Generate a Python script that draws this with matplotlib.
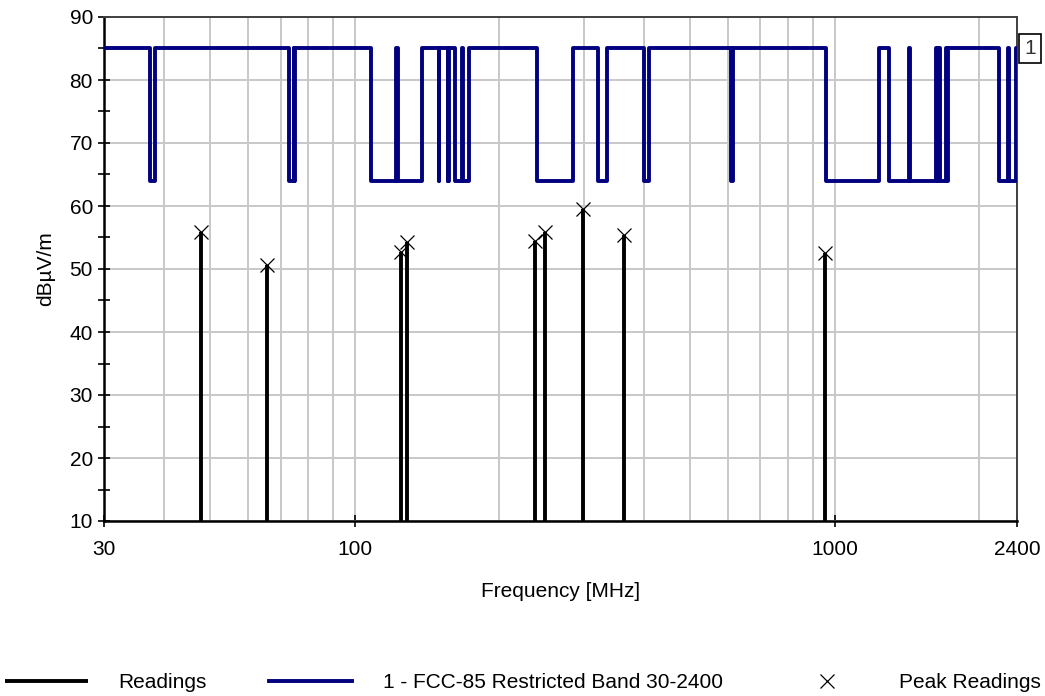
import numpy as np
import matplotlib.pyplot as plt
from matplotlib.ticker import FixedLocator, NullFormatter

plt.rcParams['font.family'] = ['Liberation Sans', 'DejaVu Sans']
plt.rcParams['font.size'] = 15

# Readings (MHz, dBuV/m)
readings_freq = [47.7, 65.5, 124.6, 128.2, 237.4, 249.0, 299.3, 363.9, 955.0]
readings_level = [55.9, 50.6, 52.7, 54.3, 54.5, 55.8, 59.6, 55.4, 52.6]

# FCC restricted bands within 30-2400 MHz (limit drops inside them)
band_lo = [37.5, 73, 74.8, 108, 123, 149.9, 156.52475, 156.7, 162.0125, 167.72,
           240, 322, 399.9, 608, 960, 1300, 1435, 1645.5, 1660, 1718.8, 2200, 2310]
band_hi = [38.25, 74.6, 75.2, 121.94, 138, 150.05, 156.52525, 156.9, 167.17, 173.2,
           285, 335.4, 410, 614, 1240, 1427, 1626.5, 1646.5, 1710, 1722.2, 2300, 2390]
limit_high = 85
limit_low = 64
f_start, f_stop = 30, 2400

x_ticks = [30, 100, 1000, 2400]
x_tick_labels = ['30', '100', '1000', '2400']
legend_labels = ['Readings', '1 - FCC-85 Restricted Band 30-2400', 'Peak Readings']

# step limit line
lim_f = [f_start]
lim_v = [limit_high]
for lo, hi in zip(band_lo, band_hi):
    lim_f += [lo, hi]
    lim_v += [limit_low, limit_high]
lim_f.append(f_stop)
lim_v.append(limit_high)

fig = plt.figure(figsize=(10.45, 6.96), dpi=100)
ax = fig.add_axes([104/1045, 1 - 521/696, 913/1045, 504/696])

ax.set_xscale('log')
ax.set_xlim(f_start, f_stop)
ax.set_ylim(10, 90)

readings = ax.vlines(readings_freq, 10, readings_level, color='black', lw=2.8, zorder=3)
limit, = ax.step(lim_f, lim_v, where='post', color='#000080', lw=2.8, zorder=4)
peaks, = ax.plot(readings_freq, readings_level, 'x', color='black', ms=10.5,
                 mew=0.9, zorder=5)

ax.annotate('1', xy=(f_stop, limit_high), xytext=(5, 0), textcoords='offset points',
            ha='left', va='center', color='#333333', annotation_clip=False,
            bbox=dict(boxstyle='square,pad=0.25', fc='white', ec='black', lw=1.2))

# ticks and grid
ax.xaxis.set_major_locator(FixedLocator(x_ticks))
ax.set_xticklabels(x_tick_labels)
ax.xaxis.set_minor_locator(FixedLocator([40, 50, 60, 70, 80, 90, 200, 300, 400, 500,
                                         600, 700, 800, 900, 2000]))
ax.xaxis.set_minor_formatter(NullFormatter())
ax.set_yticks(np.arange(10, 91, 10))
ax.set_yticks(np.arange(15, 90, 10), minor=True)

ax.tick_params(axis='x', which='major', direction='inout', length=8, width=1.2, pad=10)
ax.tick_params(axis='x', which='minor', length=0)
ax.tick_params(axis='y', which='both', direction='inout', length=8, width=1.2, pad=4)

ax.xaxis.grid(True, which='both', color='#c8c8c8', lw=1.4)
ax.yaxis.grid(True, which='major', color='#c8c8c8', lw=1.4)
ax.set_axisbelow(True)

for side in ['left', 'bottom']:
    ax.spines[side].set_linewidth(1.8)
    ax.spines[side].set_color('black')
for side in ['top', 'right']:
    ax.spines[side].set_linewidth(1.4)
    ax.spines[side].set_color('#404040')

ax.set_xlabel('Frequency [MHz]', labelpad=16)
ax.set_ylabel('dBµV/m', labelpad=10)

fig.legend([readings, limit, peaks], legend_labels, loc='center',
           bbox_to_anchor=(0.5, 1 - 683/696), ncol=3, frameon=False,
           handlelength=4.0, handletextpad=1.45, columnspacing=3.0, borderpad=0)

fig.savefig('out.png', dpi=100)
